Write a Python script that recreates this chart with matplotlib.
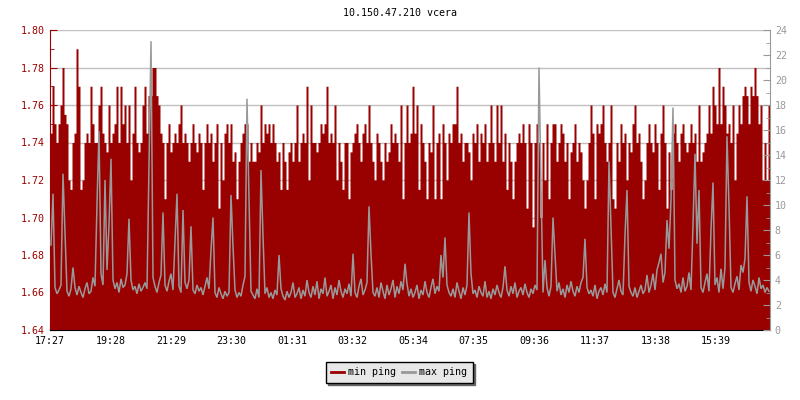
import numpy as np
import matplotlib
matplotlib.use("Agg")
import matplotlib.pyplot as plt
from matplotlib.lines import Line2D
from matplotlib.ticker import MultipleLocator

title = "10.150.47.210 vcera"
step_minutes = 4
tick_labels = ["17:27", "19:28", "21:29", "23:30", "01:31", "03:32",
               "05:34", "07:35", "09:36", "11:37", "13:38", "15:39"]
tick_spacing_minutes = 121.1
span_minutes = 1440

min_ping = [
    1.745, 1.77, 1.75, 1.74, 1.75, 1.76, 1.78, 1.755, 1.75, 1.72,
    1.715, 1.74, 1.745, 1.79, 1.77, 1.715, 1.72, 1.74, 1.745, 1.74,
    1.77, 1.75, 1.74, 1.74, 1.76, 1.77, 1.745, 1.74, 1.735, 1.76,
    1.74, 1.745, 1.75, 1.77, 1.74, 1.77, 1.75, 1.76, 1.74, 1.76,
    1.72, 1.745, 1.77, 1.74, 1.735, 1.74, 1.76, 1.77, 1.745, 1.765,
    1.765, 1.78, 1.78, 1.765, 1.76, 1.745, 1.74, 1.71, 1.74, 1.75,
    1.735, 1.74, 1.745, 1.74, 1.75, 1.76, 1.74, 1.745, 1.74, 1.73,
    1.74, 1.75, 1.74, 1.735, 1.745, 1.74, 1.715, 1.74, 1.75, 1.74,
    1.745, 1.73, 1.74, 1.75, 1.705, 1.74, 1.72, 1.745, 1.75, 1.74,
    1.75, 1.73, 1.735, 1.71, 1.73, 1.74, 1.745, 1.75, 1.75, 1.73,
    1.74, 1.73, 1.73, 1.74, 1.735, 1.76, 1.74, 1.75, 1.745, 1.75,
    1.74, 1.75, 1.74, 1.73, 1.735, 1.715, 1.74, 1.73, 1.715, 1.735,
    1.74, 1.73, 1.74, 1.76, 1.73, 1.74, 1.745, 1.74, 1.77, 1.72,
    1.76, 1.74, 1.74, 1.735, 1.74, 1.75, 1.745, 1.75, 1.77, 1.74,
    1.745, 1.74, 1.76, 1.72, 1.74, 1.73, 1.715, 1.74, 1.74, 1.71,
    1.735, 1.74, 1.745, 1.75, 1.74, 1.73, 1.745, 1.75, 1.74, 1.76,
    1.74, 1.73, 1.72, 1.745, 1.74, 1.73, 1.72, 1.74, 1.73, 1.735,
    1.75, 1.74, 1.745, 1.74, 1.73, 1.76, 1.71, 1.74, 1.76, 1.74,
    1.745, 1.77, 1.745, 1.76, 1.715, 1.75, 1.74, 1.73, 1.71, 1.74,
    1.735, 1.76, 1.71, 1.74, 1.745, 1.71, 1.75, 1.74, 1.72, 1.745,
    1.74, 1.75, 1.75, 1.77, 1.74, 1.745, 1.73, 1.74, 1.74, 1.735,
    1.72, 1.745, 1.74, 1.75, 1.73, 1.745, 1.74, 1.75, 1.73, 1.74,
    1.76, 1.74, 1.73, 1.76, 1.74, 1.76, 1.73, 1.745, 1.715, 1.74,
    1.73, 1.71, 1.73, 1.74, 1.745, 1.74, 1.75, 1.74, 1.705, 1.75,
    1.74, 1.695, 1.74, 1.75, 1.74, 1.70, 1.74, 1.72, 1.75, 1.71,
    1.74, 1.75, 1.75, 1.73, 1.74, 1.75, 1.745, 1.73, 1.74, 1.71,
    1.735, 1.74, 1.75, 1.73, 1.74, 1.735, 1.72, 1.705, 1.72, 1.74,
    1.76, 1.745, 1.71, 1.75, 1.745, 1.75, 1.76, 1.74, 1.73, 1.74,
    1.76, 1.71, 1.705, 1.74, 1.73, 1.75, 1.74, 1.745, 1.72, 1.74,
    1.735, 1.75, 1.76, 1.74, 1.745, 1.73, 1.71, 1.72, 1.74, 1.75,
    1.74, 1.735, 1.75, 1.74, 1.715, 1.745, 1.76, 1.74, 1.705, 1.735,
    1.715, 1.745, 1.75, 1.74, 1.73, 1.745, 1.75, 1.74, 1.735, 1.74,
    1.75, 1.74, 1.745, 1.73, 1.76, 1.73, 1.735, 1.74, 1.745, 1.76,
    1.745, 1.77, 1.76, 1.75, 1.78, 1.75, 1.77, 1.76, 1.745, 1.75,
    1.74, 1.76, 1.72, 1.745, 1.76, 1.75, 1.765, 1.77, 1.765, 1.75,
    1.77, 1.765, 1.78, 1.765, 1.75, 1.76, 1.72, 1.74, 1.72, 1.76,
]

max_ping = [
    6.8, 10.9, 3.4, 2.9, 3.2, 3.6, 12.5, 7.7, 3.1, 2.7, 3.3, 5.0, 3.4, 2.8, 3.5, 3.0, 2.6, 3.3, 3.8, 2.9,
    3.1, 4.2, 3.5, 10.1, 15.9, 4.5, 3.6, 12.0, 4.8, 8.4, 13.7, 4.0, 3.3, 3.8, 3.0, 4.1, 3.4, 3.6, 4.5, 8.9,
    4.0, 3.2, 3.5, 2.9, 3.7, 3.1, 3.4, 3.8, 3.3, 13.3, 23.1, 4.2, 3.5, 3.0, 3.8, 4.4, 9.4, 3.6, 3.1, 3.9,
    4.5, 3.2, 7.1, 10.9, 3.5, 3.0, 9.6, 3.8, 3.3, 4.0, 8.3, 3.2, 2.9, 3.6, 3.1, 3.4, 2.8, 3.5, 4.2, 3.3,
    6.4, 9.0, 3.0, 2.6, 3.4, 2.9, 2.5, 3.1, 2.7, 3.0, 10.8, 6.7, 3.2, 2.6, 3.0, 2.7, 3.6, 4.3, 18.5, 10.5,
    3.1, 2.8, 2.5, 3.3, 2.6, 12.8, 7.5, 2.9, 3.4, 2.6, 3.0, 2.5, 3.2, 2.8, 6.0, 3.3, 2.7, 2.4, 3.1, 2.6,
    3.0, 3.8, 2.6, 2.9, 3.4, 2.5, 3.2, 2.7, 4.0, 3.0, 2.6, 3.5, 2.8, 3.9, 2.5, 3.3, 2.9, 4.2, 2.7, 3.1,
    3.6, 2.5, 3.4, 2.8, 4.0, 3.1, 2.6, 3.3, 2.9, 3.7, 2.7, 6.1, 3.0, 2.6, 3.5, 4.1, 2.8, 3.2, 3.8, 9.9,
    6.1, 3.0, 2.7, 3.4, 2.6, 3.8, 3.1, 2.5, 3.6, 2.8, 3.3, 4.0, 2.6, 3.5, 2.9, 3.9, 3.2, 5.3, 3.7, 2.7,
    3.3, 2.6, 3.0, 3.6, 2.5, 3.2, 2.8, 3.9, 3.0, 2.6, 3.4, 4.1, 2.9, 3.5, 3.1, 6.0, 4.2, 7.4, 3.6, 3.0,
    2.7, 3.3, 2.6, 3.8, 3.1, 2.5, 3.4, 2.8, 3.6, 9.4, 4.5, 2.9, 3.2, 2.6, 3.5, 3.0, 2.7, 3.9, 2.6, 3.1,
    2.5, 3.3, 2.8, 3.6, 3.0, 2.6, 3.4, 5.1, 3.2, 2.7, 3.5, 2.9, 3.8, 2.6, 3.1, 3.4, 2.8, 3.7, 3.0, 2.6,
    3.3, 2.9, 3.6, 3.2, 21.0, 11.7, 3.0, 5.6, 3.4, 2.7, 3.5, 9.0, 6.0, 3.1, 3.8, 2.8, 3.3, 2.6, 3.6, 3.0,
    3.9, 3.1, 2.7, 3.5, 3.0, 3.8, 4.2, 7.3, 3.4, 2.9, 3.2, 2.7, 3.6, 2.5, 3.1, 3.4, 2.8, 3.7, 3.0, 13.5,
    8.1, 3.0, 2.6, 3.3, 4.0, 3.1, 2.8, 7.6, 11.2, 3.5, 3.0, 2.7, 3.4, 2.6, 3.1, 3.6, 2.9, 3.2, 4.4, 3.0,
    3.6, 4.5, 3.2, 4.8, 5.4, 6.1, 3.8, 4.6, 8.8, 6.5, 10.4, 17.8, 4.0, 3.3, 3.7, 3.0, 4.2, 3.1, 3.5, 4.6,
    3.2, 8.4, 14.1, 6.9, 11.2, 3.4, 3.0, 3.8, 4.5, 3.1, 8.0, 11.8, 3.6, 4.2, 3.0, 4.9, 3.3, 5.0, 15.5, 9.9,
    3.4, 3.0, 3.7, 4.3, 3.2, 5.2, 4.6, 5.7, 10.7, 3.8, 3.1, 4.0, 3.5, 2.9, 4.2, 3.3, 3.6, 3.0, 3.4, 3.1,
]

RED = "#990000"
GREY = "#999999"
FONT = "DejaVu Sans Mono"
FS = 7.2

n = len(min_ping)
x_edges = np.arange(n + 1) * step_minutes
y_min = np.append(min_ping, min_ping[-1])
x_pts = (np.arange(n) + 0.5) * step_minutes

fig = plt.figure(figsize=(8, 4), dpi=100)
ax = fig.add_axes([50 / 800, 70 / 400, 720 / 800, 300 / 400])
ax.set_xlim(0, span_minutes)
ax.set_ylim(1.64, 1.80)
ax.set_axisbelow(True)
ax.yaxis.grid(True, color="#c0c0c0", lw=1)
ax.fill_between(x_edges, 1.64, y_min, step="post", color=RED, lw=0, zorder=2)

ax.yaxis.set_major_locator(MultipleLocator(0.02))
ax.yaxis.set_minor_locator(MultipleLocator(0.01))
ax.tick_params(axis="y", which="both", direction="in", colors=RED, labelsize=FS)
ax.tick_params(axis="y", which="major", length=5)
ax.tick_params(axis="y", which="minor", length=3)
yt = np.arange(1.64, 1.8001, 0.02)
ax.set_yticks(yt)
ax.set_yticklabels([f"{v:.2f}" for v in yt], family=FONT)

ax.set_xticks(np.arange(len(tick_labels)) * tick_spacing_minutes)
ax.set_xticklabels(tick_labels, family=FONT)
ax.tick_params(axis="x", direction="in", length=5, colors="black", labelsize=FS, pad=4)

ax.spines["top"].set_visible(False)
ax.spines["left"].set_color(RED)
ax.spines["bottom"].set_color("black")
ax.spines["right"].set_visible(False)

ax2 = ax.twinx()
ax2.set_ylim(0, 24)
ax2.plot(x_pts, max_ping, color=GREY, lw=1.1, zorder=3, solid_joinstyle="miter")
ax2.yaxis.set_major_locator(MultipleLocator(2))
ax2.yaxis.set_minor_locator(MultipleLocator(1))
ax2.tick_params(axis="y", which="both", direction="in", colors=GREY, labelsize=FS)
ax2.tick_params(axis="y", which="major", length=5)
ax2.tick_params(axis="y", which="minor", length=3)
for lab in ax2.get_yticklabels():
    lab.set_family(FONT)
ax2.spines["right"].set_color(GREY)
ax2.spines["top"].set_visible(False)
ax2.spines["left"].set_visible(False)
ax2.spines["bottom"].set_visible(False)

fig.text(0.5, 1 - 13 / 400, title, ha="center", va="center", family=FONT, fontsize=FS)

handles = [Line2D([], [], color=RED, lw=2), Line2D([], [], color=GREY, lw=2)]
leg = fig.legend(handles, ["min ping", "max ping"], loc="center",
                 bbox_to_anchor=(399 / 800, 1 - 372 / 400), ncol=2,
                 prop={"family": FONT, "size": FS}, frameon=True, fancybox=False,
                 handlelength=1.3, handletextpad=0.4, columnspacing=0.6,
                 borderpad=0.55, borderaxespad=0,
                 shadow={"color": "#666666", "alpha": 1})
leg.get_frame().set_facecolor("#e8e8e8")
leg.get_frame().set_edgecolor("black")
leg.get_frame().set_linewidth(1)
leg.get_frame().set_alpha(1)

fig.savefig("out.png", dpi=100)
